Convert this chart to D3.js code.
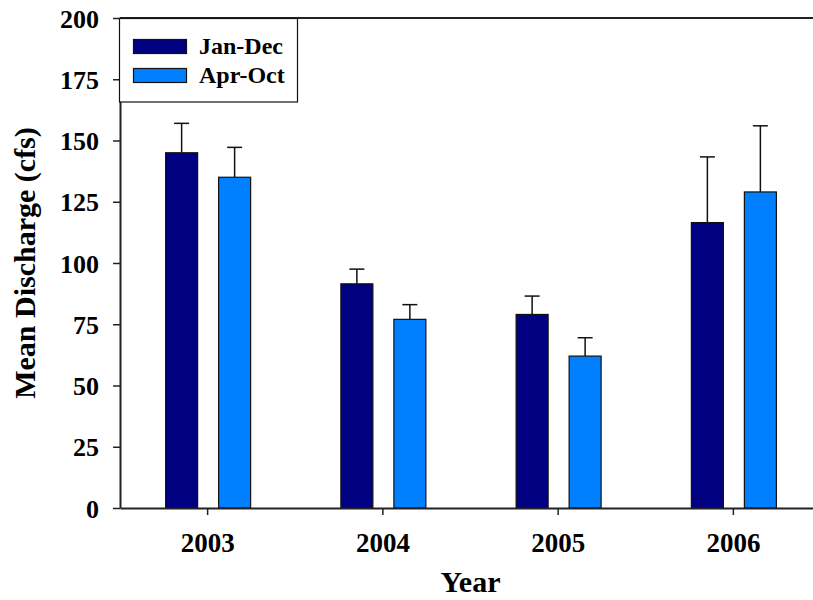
<!DOCTYPE html>
<html>
<head>
<meta charset="utf-8">
<script src="https://cdn.jsdelivr.net/npm/d3@7"></script>
<style>
  html, body { margin: 0; padding: 0; background: #fff; }
  svg text { font-family: "Liberation Serif", "Times New Roman", serif; font-weight: bold; fill: #000; }
</style>
</head>
<body>
<svg id="chart" width="813" height="600"></svg>
<script>
// Annual mean discharge, full year vs. growing season, with upper error bars
const years = ["2003", "2004", "2005", "2006"];
const seriesNames = ["Jan-Dec", "Apr-Oct"];
const janDec = [145, 91.5, 79, 116.5];
const janDecErr = [12, 6, 7.5, 26.8];
const aprOct = [135, 77, 62, 129];
const aprOctErr = [12.2, 6, 7.5, 27];
const yTicks = [0, 25, 50, 75, 100, 125, 150, 175, 200];

const colors = ["#000080", "#0080ff"];
const svg = d3.select("#chart");

const x = d3.scaleBand().domain(years).range([120, 821]).padding(0);
const y = d3.scaleLinear().domain([0, 200]).range([508, 18]);

const barW = 32;
const offsets = [-26, 27];

const series = [
  { name: seriesNames[0], values: janDec, errs: janDecErr, color: colors[0], off: offsets[0] },
  { name: seriesNames[1], values: aprOct, errs: aprOctErr, color: colors[1], off: offsets[1] }
];

// Error bars (drawn first so bars cover the lower half)
series.forEach(s => {
  const g = svg.append("g");
  years.forEach((yr, i) => {
    const cx = x(yr) + x.bandwidth() / 2 + s.off;
    g.append("line")
      .attr("x1", cx).attr("x2", cx)
      .attr("y1", y(s.values[i])).attr("y2", y(s.values[i] + s.errs[i]))
      .attr("stroke", "#111").attr("stroke-width", 1.5);
    g.append("line")
      .attr("x1", cx - 7.5).attr("x2", cx + 7.5)
      .attr("y1", y(s.values[i] + s.errs[i])).attr("y2", y(s.values[i] + s.errs[i]))
      .attr("stroke", "#111").attr("stroke-width", 1.5);
  });
});

// Bars
series.forEach(s => {
  svg.append("g").selectAll("rect")
    .data(s.values)
    .join("rect")
    .attr("x", (d, i) => x(years[i]) + x.bandwidth() / 2 + s.off - barW / 2)
    .attr("y", d => y(d))
    .attr("width", barW)
    .attr("height", d => y(0) - y(d))
    .attr("fill", s.color)
    .attr("stroke", "#111")
    .attr("stroke-width", 1.2);
});

// Axes
const yAxis = svg.append("g")
  .attr("transform", "translate(120,0)")
  .call(d3.axisLeft(y).tickValues(yTicks).tickSize(7).tickPadding(14).tickSizeOuter(0));
yAxis.selectAll("text").style("font-size", "26px").attr("dy", "0.35em");

const xAxis = svg.append("g")
  .attr("transform", "translate(0,508)")
  .call(d3.axisBottom(x).tickSize(7).tickPadding(18).tickSizeOuter(0));
xAxis.selectAll("text").style("font-size", "27px");

[yAxis, xAxis].forEach(a => {
  a.select(".domain").attr("stroke", "#222").attr("stroke-width", 2);
  a.selectAll(".tick line").attr("stroke", "#222").attr("stroke-width", 1.5);
  a.selectAll("text").attr("font-family", "Liberation Serif").attr("font-weight", "bold");
});

// Top frame line
svg.append("line")
  .attr("x1", 120).attr("x2", 821)
  .attr("y1", y(200)).attr("y2", y(200))
  .attr("stroke", "#222").attr("stroke-width", 2);

// Axis titles
svg.append("text")
  .attr("transform", "translate(35," + (y(100)) + ") rotate(-90)")
  .attr("text-anchor", "middle")
  .style("font-size", "30px")
  .text("Mean Discharge (cfs)");

svg.append("text")
  .attr("x", x("2004") + x.bandwidth())
  .attr("y", 592)
  .attr("text-anchor", "middle")
  .style("font-size", "30px")
  .text("Year");

// Legend
const legend = svg.append("g");
legend.append("rect")
  .attr("x", 119.5).attr("y", 18.5).attr("width", 178).attr("height", 83.5)
  .attr("fill", "#fff").attr("stroke", "#111").attr("stroke-width", 1.2);
series.forEach((s, i) => {
  legend.append("rect")
    .attr("x", 133.5).attr("y", 39.5 + i * 29).attr("width", 53).attr("height", 14)
    .attr("fill", s.color).attr("stroke", "#111").attr("stroke-width", 1.2);
  legend.append("text")
    .attr("x", 199).attr("y", 54 + i * 29)
    .style("font-size", "24px")
    .text(s.name);
});
</script>
</body>
</html>
